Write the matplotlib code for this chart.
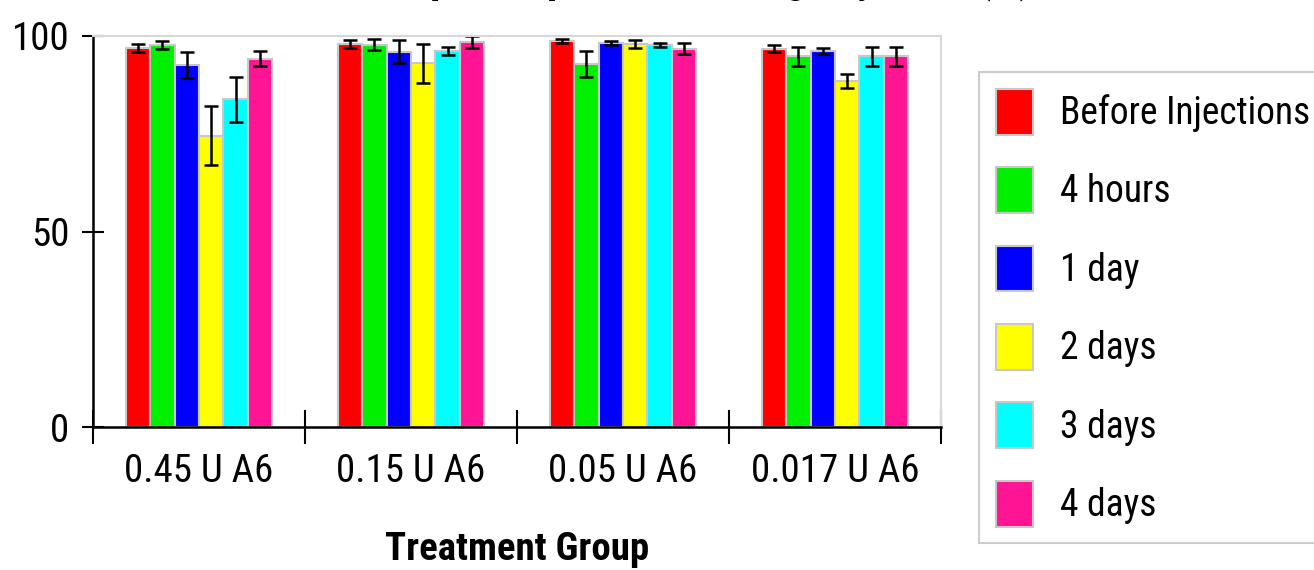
import matplotlib
matplotlib.use('Agg')
import matplotlib.pyplot as plt
from matplotlib import font_manager
import numpy as np

# pick a narrow Arial-like face if there is one
names = set(f.name for f in font_manager.fontManager.ttflist)
if 'Liberation Sans Narrow' in names:
    fam = 'Liberation Sans Narrow'
elif 'Roboto Condensed' in names:
    fam = 'Roboto Condensed'
else:
    fam = 'Liberation Sans'
plt.rcParams['font.family'] = [fam, 'DejaVu Sans']
fs = 28

groups = ['0.45 U A6', '0.15 U A6', '0.05 U A6', '0.017 U A6']
series = ['Before Injections', '4 hours', '1 day', '2 days', '3 days', '4 days']
colors = ['#ff0000', '#00f000', '#0000ff', '#ffff00', '#00ffff', '#ff1493']

before_inj = [97.0, 98.0, 98.7, 96.8]
before_err = [1.0, 1.0, 0.5, 1.0]
hours_4 = [97.7, 97.8, 92.8, 94.8]
hours_4_err = [1.0, 1.5, 3.3, 2.5]
day_1 = [92.5, 96.0, 98.2, 96.2]
day_1_err = [3.3, 3.0, 0.5, 0.8]
days_2 = [74.5, 93.0, 98.0, 88.6]
days_2_err = [7.5, 5.0, 1.0, 1.8]
days_3 = [83.8, 96.1, 97.8, 94.8]
days_3_err = [5.7, 1.0, 0.5, 2.5]
days_4 = [94.2, 98.5, 96.8, 94.8]
days_4_err = [2.0, 1.5, 1.5, 2.5]

values = [before_inj, hours_4, day_1, days_2, days_3, days_4]
errors = [before_err, hours_4_err, day_1_err, days_2_err, days_3_err, days_4_err]

fig = plt.figure(figsize=(13.14, 5.70), dpi=100)
ax = fig.add_axes([93/1314, 1-427/570, (941-93)/1314, (427-36)/570])

x = np.arange(len(groups))
w = 0.1155
for i in range(len(series)):
    ax.bar(x + (i - 2.5)*w, values[i], width=w, color=colors[i], edgecolor='#c8c8c8',
           linewidth=1.5, label=series[i], yerr=errors[i], capsize=5,
           error_kw=dict(elinewidth=1.8, capthick=1.8, ecolor='black'))

ax.set_xlim(-0.5, 3.5)
ax.set_ylim(0, 100)
ax.set_yticks([0, 50, 100])
ax.tick_params(axis='y', direction='inout', length=16, width=1.5, labelsize=fs, pad=9)
ax.set_xticks(np.arange(-0.5, 4, 1))
ax.set_xticklabels([])
ax.set_xticks(x, minor=True)
ax.set_xticklabels(groups, minor=True)
ax.tick_params(axis='x', which='major', direction='inout', length=24, width=1.5)
ax.tick_params(axis='x', which='minor', length=0, labelsize=fs, pad=19)

for s in ['left', 'bottom']:
    ax.spines[s].set_linewidth(1.8)
for s in ['top', 'right']:
    ax.spines[s].set_color('#d8d8d8')
    ax.spines[s].set_linewidth(1.5)

ax.set_xlabel('Treatment Group', fontsize=fs, fontweight='bold', labelpad=29)

# title is cut off at the top edge of the original image
fig.text(0.525, 1 + 7/570, 'Receptor Expression Change by Time (%)', ha='center',
         va='baseline', fontsize=30, fontweight='bold')

leg = fig.legend(loc='upper left', bbox_to_anchor=(979/1314, 1-72/570), fontsize=27,
                 handlelength=1.0, handleheight=1.5, handletextpad=0.7,
                 labelspacing=0.87, borderpad=0.45, borderaxespad=0, fancybox=False)
leg.get_frame().set_edgecolor('#c0c0c0')
leg.get_frame().set_linewidth(1.5)

fig.savefig('out.png', dpi=100)
